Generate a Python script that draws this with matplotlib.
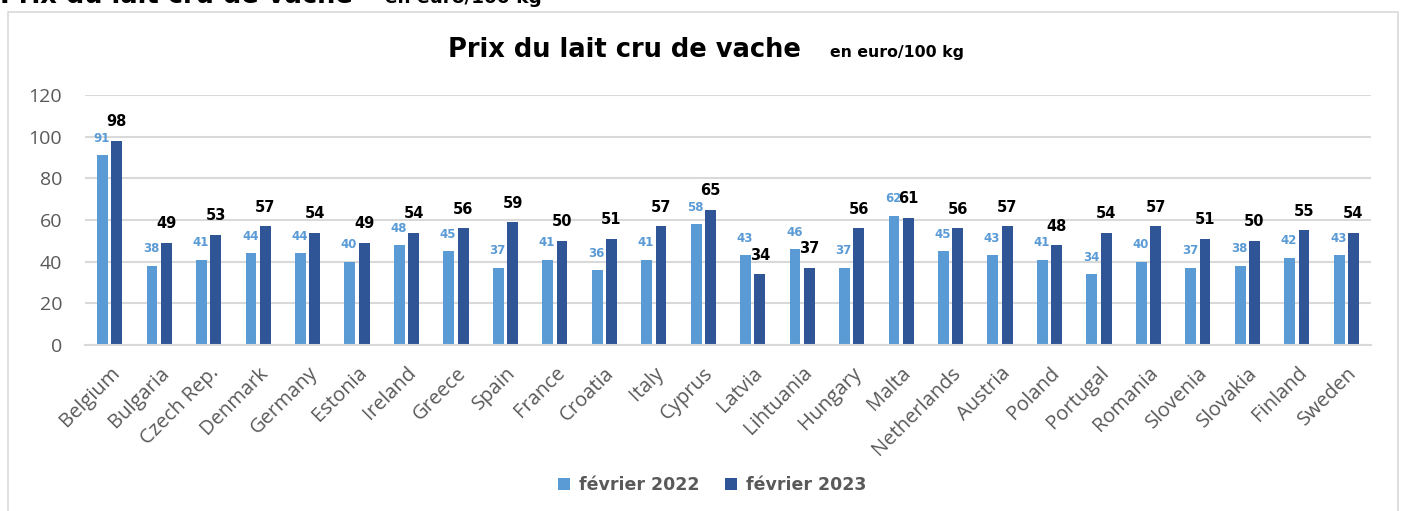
import matplotlib
matplotlib.use("Agg")
import matplotlib.pyplot as plt
import numpy as np
from matplotlib.patches import Rectangle

countries = ["Belgium", "Bulgaria", "Czech Rep.", "Denmark", "Germany", "Estonia",
             "Ireland", "Greece", "Spain", "France", "Croatia", "Italy", "Cyprus",
             "Latvia", "Lihtuania", "Hungary", "Malta", "Netherlands", "Austria",
             "Poland", "Portugal", "Romania", "Slovenia", "Slovakia", "Finland", "Sweden"]
feb2022 = [91, 38, 41, 44, 44, 40, 48, 45, 37, 41, 36, 41, 58, 43, 46, 37, 62, 45,
           43, 41, 34, 40, 37, 38, 42, 43]
feb2023 = [98, 49, 53, 57, 54, 49, 54, 56, 59, 50, 51, 57, 65, 34, 37, 56, 61, 56,
           57, 48, 54, 57, 51, 50, 55, 54]
yticks = [0, 20, 40, 60, 80, 100, 120]
series_names = ["février 2022", "février 2023"]

plt.rcParams['font.family'] = ['Open Sans', 'DejaVu Sans']
BOLD = ['DejaVu Sans']

W, H = 1408, 511
fig = plt.figure(figsize=(W / 100, H / 100), dpi=100)

# outer chart frame
fig.patches.append(Rectangle((8 / W, -0.05), (1398 - 8) / W, 1.05 - 12 / H,
                             transform=fig.transFigure, fill=False,
                             edgecolor="#d9d9d9", linewidth=1.2))

# cut-off heading at top
fig.text(0 / W, 1 - 3 / H, "Prix du lait cru de vache", fontsize=18.5, fontweight="bold",
         family=BOLD, color="black", ha="left", va="baseline")
fig.text(385 / W, 1 - 3 / H, "en euro/100 kg", fontsize=13.3, fontweight="bold",
         family=BOLD, color="black", ha="left", va="baseline")

# chart title
fig.text(448 / W, 1 - 57 / H, "Prix du lait cru de vache", fontsize=18.5, fontweight="bold",
         family=BOLD, color="black", ha="left", va="baseline")
fig.text(830 / W, 1 - 57 / H, "en euro/100 kg", fontsize=11.3, fontweight="bold",
         family=BOLD, color="black", ha="left", va="baseline")

ax = fig.add_axes([85 / W, (H - 345) / H, (1371 - 85) / W, 250 / H])
x = np.arange(len(countries))
bw = 0.22
c1, c2 = "#5B9BD5", "#2F5597"
b1 = ax.bar(x - 0.145, feb2022, bw, color=c1, label=series_names[0], zorder=2)
b2 = ax.bar(x + 0.145, feb2023, bw, color=c2, label=series_names[1], zorder=2)

for xi, v in zip(x, feb2022):
    ax.annotate(f"{v}", (xi - 0.16, v), xytext=(0, 17), textcoords="offset pixels",
                ha="center", va="center", fontsize=8.5, fontweight="bold", family=BOLD,
                color=c1, zorder=3)
for xi, v in zip(x, feb2023):
    ax.annotate(f"{v}", (xi + 0.145, v), xytext=(0, 19), textcoords="offset pixels",
                ha="center", va="center", fontsize=10.5, fontweight="bold", family=BOLD,
                color="black", zorder=4)

ax.set_xlim(-0.5, len(countries) - 0.5)
ax.set_ylim(0, 120)
ax.set_yticks(yticks)
ax.set_yticklabels([str(t) for t in yticks], fontsize=14, color="#595959")
ax.tick_params(axis="y", length=0, pad=16.5)
ax.set_xticks(x)
ax.set_xticklabels(countries, rotation=45, ha="right", rotation_mode="anchor",
                   fontsize=14.5, color="#595959")
ax.tick_params(axis="x", length=0, pad=13)
ax.grid(axis="y", color="#d9d9d9", linewidth=1.5, zorder=0)
ax.set_axisbelow(True)
for s in ["top", "right", "left"]:
    ax.spines[s].set_visible(False)
ax.spines["bottom"].set_color("#d9d9d9")
ax.spines["bottom"].set_linewidth(1.5)

leg = fig.legend(handles=[b1, b2], labels=series_names, loc="center",
                 bbox_to_anchor=(712 / W, 1 - 485 / H), ncol=2, frameon=False,
                 prop={"size": 12.5, "weight": "bold", "family": BOLD},
                 handlelength=0.7, handleheight=0.7,
                 columnspacing=1.5, handletextpad=0.5)
for t in leg.get_texts():
    t.set_color("#595959")

fig.savefig("out.png", dpi=100)
